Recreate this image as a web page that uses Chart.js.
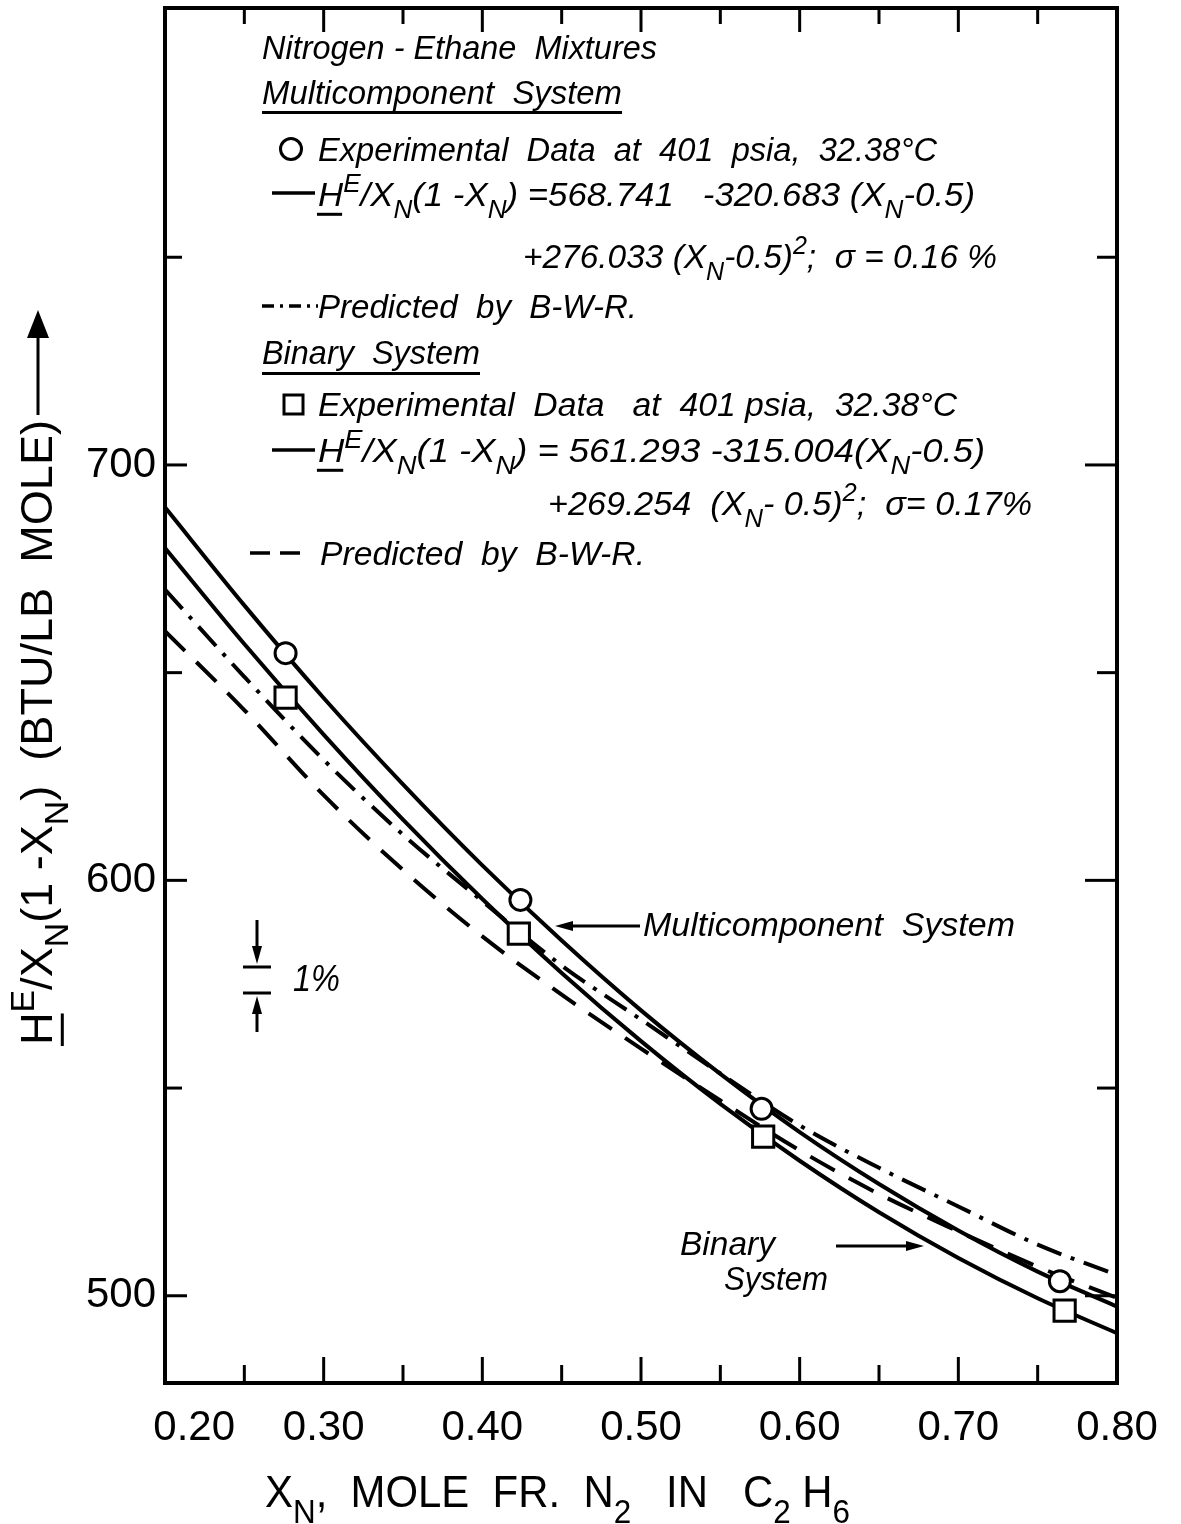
<!DOCTYPE html>
<html>
<head>
<meta charset="utf-8">
<title>Nitrogen-Ethane Mixtures</title>
<script src="https://cdn.jsdelivr.net/npm/chart.js@4.4.1/dist/chart.umd.min.js"></script>
<style>
  html, body { margin: 0; padding: 0; background: #fff; }
  #wrap { width: 1181px; height: 1524px; }
</style>
</head>
<body>
<div id="wrap"><canvas id="heChart"></canvas></div>
<script>
// mole fraction grid for the smooth curves
const xGrid = [0.20, 0.25, 0.30, 0.35, 0.40, 0.45, 0.50, 0.55, 0.60, 0.65, 0.70, 0.75, 0.80];
// fitted curves, BTU/lb mole
const multiFit  = [689.8, 666.2, 643.9, 623.1, 603.6, 585.5, 568.7, 553.4, 539.4, 526.9, 515.7, 505.8, 497.4];
const binaryFit = [680.0, 656.9, 635.1, 614.6, 595.5, 577.7, 561.3, 546.2, 532.5, 520.1, 509.1, 499.4, 491.0];
// predicted by B-W-R
const multiBWR  = [670.0, 649.0, 629.0, 611.0, 595.0, 579.5, 566.5, 553.5, 541.0, 530.8, 521.5, 512.3, 505.0];
const binaryBWR = [660.0, 641.0, 620.5, 602.5, 586.5, 572.5, 559.5, 547.0, 535.0, 524.5, 515.5, 507.0, 499.5];
// experimental data at 401 psia, 32.38 C
const multiExpX  = [0.276, 0.424, 0.576, 0.764];
const multiExpY  = [654.7, 595.3, 545.0, 503.5];
const binaryExpX = [0.276, 0.423, 0.577, 0.767];
const binaryExpY = [644.0, 587.2, 538.3, 496.4];
// axis ticks
const xTicks = [0.20, 0.25, 0.30, 0.35, 0.40, 0.45, 0.50, 0.55, 0.60, 0.65, 0.70, 0.75, 0.80];
const yTicks = [500, 550, 600, 650, 700, 750];

const FONT = '"Liberation Sans", Arial, sans-serif';
const DASH = [28, 16];
const DASH_DOT = [26, 10, 4, 10];

const toXY = (xs, ys) => xs.map((x, i) => ({ x: x, y: ys[i] }));
const isMajorX = v => Math.round(v * 100) % 10 === 0;
const isMajorY = v => v % 100 === 0;

// text runs: '_' subscript, '^' superscript, '~' underlined, anything else plain
function drawRich(ctx, parts, x, y, size, italic, fitTo) {
  const style = italic ? 'italic ' : '';
  const runs = parts.map(p => {
    const m = '_^~'.includes(p[0]) ? p[0] : '';
    const t = m ? p.slice(1) : p;
    const s = (m === '_' || m === '^') ? size * 0.75 : size;
    const dy = m === '_' ? size * 0.36 : (m === '^' ? -size * 0.42 : 0);
    ctx.font = style + s + 'px ' + FONT;
    return { t: t, m: m, s: s, dy: dy, w: ctx.measureText(t).width };
  });
  const total = runs.reduce((a, r) => a + r.w, 0);
  const k = fitTo ? (fitTo - x) / total : 1;
  ctx.save();
  ctx.translate(x, y);
  ctx.scale(k, 1);
  let cx = 0;
  runs.forEach(r => {
    ctx.font = style + r.s + 'px ' + FONT;
    ctx.fillText(r.t, cx, r.dy);
    if (r.m === '~') ctx.fillRect(cx - 1, size * 0.2, r.w, 3);
    cx += r.w;
  });
  ctx.restore();
}

function line(ctx, x1, y1, x2, y2) {
  ctx.beginPath(); ctx.moveTo(x1, y1); ctx.lineTo(x2, y2); ctx.stroke();
}

function arrow(ctx, x1, y1, x2, y2, head, half) {
  const a = Math.atan2(y2 - y1, x2 - x1);
  const c = Math.cos(a), s = Math.sin(a);
  line(ctx, x1, y1, x2 - c * head * 0.7, y2 - s * head * 0.7);
  ctx.beginPath();
  ctx.moveTo(x2, y2);
  ctx.lineTo(x2 - c * head + s * half, y2 - s * head - c * half);
  ctx.lineTo(x2 - c * head - s * half, y2 - s * head + c * half);
  ctx.closePath();
  ctx.fill();
}

// box frame with inward ticks on all four sides
const framePlugin = {
  id: 'frame',
  afterDatasetsDraw(chart) {
    const { ctx, chartArea: a, scales: { x, y } } = chart;
    ctx.save();
    ctx.strokeStyle = '#000';
    ctx.lineWidth = 4;
    ctx.strokeRect(a.left, a.top, a.right - a.left, a.bottom - a.top);
    ctx.lineWidth = 3;
    x.ticks.forEach(t => {
      const px = x.getPixelForValue(t.value);
      const big = isMajorX(t.value);
      line(ctx, px, a.bottom, px, a.bottom - (big ? 26 : 18));
      line(ctx, px, a.top, px, a.top + (big ? 24 : 16));
    });
    y.ticks.forEach(t => {
      const py = y.getPixelForValue(t.value);
      const big = isMajorY(t.value);
      line(ctx, a.left, py, a.left + (big ? 22 : 17), py);
      line(ctx, a.right, py, a.right - (big ? 32 : 20), py);
    });
    ctx.restore();
  }
};

// legend block, callouts and axis titles
const notesPlugin = {
  id: 'notes',
  afterDraw(chart) {
    const ctx = chart.ctx;
    ctx.save();
    ctx.fillStyle = '#000';
    ctx.strokeStyle = '#000';
    ctx.textBaseline = 'alphabetic';
    const S = 34;

    drawRich(ctx, ['Nitrogen - Ethane  Mixtures'], 262, 59, S, true, 657);
    drawRich(ctx, ['Multicomponent  System'], 262, 104, S, true, 622);
    ctx.fillRect(262, 111, 360, 3);

    ctx.lineWidth = 3;
    ctx.beginPath(); ctx.arc(291, 149, 10.5, 0, Math.PI * 2); ctx.stroke();
    drawRich(ctx, ['Experimental  Data  at  401  psia,  32.38°C'], 318, 161, S, true, 937);

    ctx.lineWidth = 3.5;
    line(ctx, 272, 193, 315, 193);
    drawRich(ctx, ['~H', '^E', '/X', '_N', '(1 -X', '_N', ') =568.741   -320.683 (X', '_N', '-0.5)'], 318, 206, S, true, 975);
    drawRich(ctx, ['+276.033 (X', '_N', '-0.5)', '^2', ';  σ = 0.16 %'], 523, 268, S, true, 997);

    ctx.setLineDash([12, 6, 3, 6]);
    line(ctx, 262, 306, 318, 306);
    ctx.setLineDash([]);
    drawRich(ctx, ['Predicted  by  B-W-R.'], 318, 318, S, true, 637);

    drawRich(ctx, ['Binary  System'], 262, 364, S, true, 480);
    ctx.fillRect(262, 372, 218, 3);

    ctx.lineWidth = 3;
    ctx.strokeRect(284, 395, 19, 19);
    drawRich(ctx, ['Experimental  Data   at  401 psia,  32.38°C'], 318, 416, S, true, 957);

    ctx.lineWidth = 3.5;
    line(ctx, 272, 450, 315, 450);
    drawRich(ctx, ['~H', '^E', '/X', '_N', '(1 -X', '_N', ') = 561.293 -315.004(X', '_N', '-0.5)'], 318, 462, S, true, 985);
    drawRich(ctx, ['+269.254  (X', '_N', '- 0.5)', '^2', ';  σ= 0.17%'], 548, 515, S, true, 1032);

    ctx.setLineDash([20, 10]);
    line(ctx, 250, 553, 302, 553);
    ctx.setLineDash([]);
    drawRich(ctx, ['Predicted  by  B-W-R.'], 320, 565, S, true, 645);

    // callouts on the curves
    ctx.lineWidth = 3;
    arrow(ctx, 640, 926, 555, 926, 18, 5);
    drawRich(ctx, ['Multicomponent  System'], 643, 936, S, true, 1015);
    drawRich(ctx, ['Binary'], 680, 1255, S, true, 775);
    drawRich(ctx, ['System'], 724, 1290, S, true, 828);
    arrow(ctx, 836, 1246, 924, 1246, 18, 5);

    // 1% bar
    arrow(ctx, 257, 920, 257, 964, 18, 5);
    line(ctx, 243, 967, 271, 967);
    line(ctx, 243, 993, 271, 993);
    arrow(ctx, 257, 1032, 257, 996, 18, 5);
    drawRich(ctx, ['1%'], 293, 991, 37, true, 340);

    // x axis title
    drawRich(ctx, ['X', '_N', ',  MOLE  FR.  N', '_2', '   IN   C', '_2', ' H', '_6'], 265, 1507, 44, false, 850);

    // y axis title, rotated, with arrow above
    ctx.save();
    ctx.translate(52, 1045);
    ctx.rotate(-Math.PI / 2);
    drawRich(ctx, ['~H', '^E', '/X', '_N', '(1 -X', '_N', ')  (BTU/LB  MOLE)'], 0, 0, 44, false, 625);
    ctx.restore();
    arrow(ctx, 38, 415, 38, 310, 28, 11);

    ctx.restore();
  }
};

new Chart(document.getElementById('heChart'), {
  type: 'line',
  data: {
    datasets: [
      { label: 'Multicomponent fit', data: toXY(xGrid, multiFit), borderColor: '#000', borderWidth: 4,
        pointRadius: 0, cubicInterpolationMode: 'monotone', order: 2 },
      { label: 'Binary fit', data: toXY(xGrid, binaryFit), borderColor: '#000', borderWidth: 4,
        pointRadius: 0, cubicInterpolationMode: 'monotone', order: 2 },
      { label: 'Multicomponent B-W-R', data: toXY(xGrid, multiBWR), borderColor: '#000', borderWidth: 4,
        borderDash: DASH_DOT, pointRadius: 0, cubicInterpolationMode: 'monotone', order: 2 },
      { label: 'Binary B-W-R', data: toXY(xGrid, binaryBWR), borderColor: '#000', borderWidth: 4,
        borderDash: DASH, pointRadius: 0, cubicInterpolationMode: 'monotone', order: 2 },
      { type: 'scatter', label: 'Multicomponent data', data: toXY(multiExpX, multiExpY),
        pointStyle: 'circle', pointRadius: 10.5, pointBackgroundColor: '#fff',
        pointBorderColor: '#000', pointBorderWidth: 3, showLine: false, order: 0 },
      { type: 'scatter', label: 'Binary data', data: toXY(binaryExpX, binaryExpY),
        pointStyle: 'rect', pointRadius: 15, pointBackgroundColor: '#fff',
        pointBorderColor: '#000', pointBorderWidth: 3, showLine: false, order: 0 }
    ]
  },
  options: {
    responsive: true,
    maintainAspectRatio: false,
    animation: false,
    devicePixelRatio: 1,
    layout: { autoPadding: false, padding: { left: 0, right: 64, top: 8, bottom: 0 } },
    plugins: { legend: { display: false }, tooltip: { enabled: false } },
    scales: {
      x: {
        type: 'linear', position: 'bottom', min: 0.2, max: 0.8,
        grid: { display: false, drawTicks: false }, border: { display: false },
        afterBuildTicks: s => { s.ticks = xTicks.map(v => ({ value: v })); },
        afterFit: s => { s.height = 141; s.paddingLeft = 0; s.paddingRight = 0; },
        ticks: {
          autoSkip: false, maxRotation: 0, padding: 20, color: '#000',
          font: { family: FONT, size: 42 },
          // first label sits a little clear of the frame
          callback: v => !isMajorX(v) ? '' : (v < 0.25 ? '     ' : '') + v.toFixed(2)
        }
      },
      y: {
        type: 'linear', min: 479, max: 810,
        grid: { display: false, drawTicks: false }, border: { display: false },
        afterBuildTicks: s => { s.ticks = yTicks.map(v => ({ value: v })); },
        afterFit: s => { s.width = 165; s.paddingTop = 0; s.paddingBottom = 0; },
        ticks: {
          autoSkip: false, padding: 9, color: '#000',
          font: { family: FONT, size: 42 },
          callback: v => isMajorY(v) ? String(v) : ''
        }
      }
    }
  },
  plugins: [framePlugin, notesPlugin]
});
</script>
</body>
</html>
